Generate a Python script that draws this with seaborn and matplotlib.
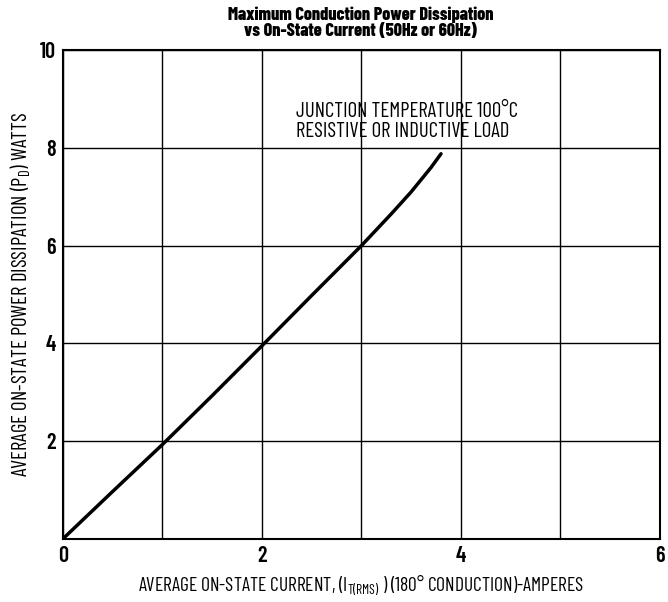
import matplotlib
matplotlib.use("Agg")
import matplotlib.pyplot as plt
import seaborn as sns
import pandas as pd

current = [0.0, 0.5, 1.0, 1.5, 2.0, 2.5, 3.0, 3.3, 3.5, 3.7, 3.8]
power = [0.0, 0.97, 1.93, 2.93, 3.95, 4.98, 6.0, 6.65, 7.1, 7.6, 7.88]
x_ticks = [0, 2, 4, 6]
y_ticks = [2, 4, 6, 8, 10]

sns.set_theme(style="white")
FONT = ['Barlow Condensed', 'DejaVu Sans']
plt.rcParams['font.family'] = FONT
plt.rcParams['mathtext.fontset'] = 'custom'
plt.rcParams['mathtext.rm'] = 'Barlow Condensed'

df = pd.DataFrame({"I": current, "P": power})

fig = plt.figure(figsize=(6.68, 6.02), dpi=100)
ax = fig.add_axes([0.094, 0.1047, 0.894, 0.812])
sns.lineplot(data=df, x="I", y="P", ax=ax, color="black", linewidth=2.5)

ax.set_xlim(0, 6)
ax.set_ylim(0, 10)
ax.set_xticks([0, 1, 2, 3, 4, 5, 6])
ax.set_xticklabels([str(v) if v in x_ticks else "" for v in range(7)])
ax.set_yticks([0, 2, 4, 6, 8, 10])
ax.set_yticklabels([""] + [str(v) for v in y_ticks])
ax.grid(True, color="black", linewidth=1.0)
for s in ax.spines.values():
    s.set_color("black")
    s.set_linewidth(1.5)
ax.tick_params(axis="both", length=0, labelsize=16, colors="black", pad=5)
for lab in ax.get_xticklabels() + ax.get_yticklabels():
    lab.set_fontweight("semibold")

ax.set_xlabel(r"AVERAGE ON-STATE CURRENT, (I$_\mathregular{T(RMS)}$ ) (180° CONDUCTION)-AMPERES",
              fontsize=14, color="black", labelpad=5)
ax.set_ylabel(r"AVERAGE ON-STATE POWER DISSIPATION (P$_\mathregular{D}$) WATTS",
              fontsize=15, color="black", labelpad=5)

ax.text(2.34, 8.54, "JUNCTION TEMPERATURE 100°C\nRESISTIVE OR INDUCTIVE LOAD",
        ha="left", va="center", fontsize=15, color="black", linespacing=1.05)

fig.text(0.54, 0.962, "Maximum Conduction Power Dissipation\nvs On-State Current (50Hz or 60Hz)",
         ha="center", va="center", fontsize=13, fontweight="heavy", color="black", linespacing=1.0)

fig.savefig("out.png", dpi=100)
